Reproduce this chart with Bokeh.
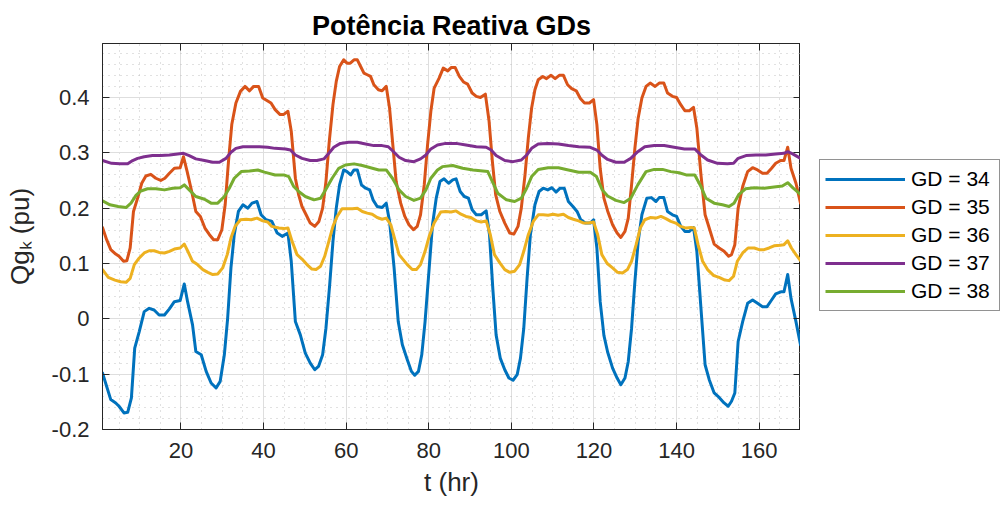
from bokeh.plotting import figure
from bokeh.layouts import row
from bokeh.models import (Range1d, FixedTicker, LinearAxis, Legend, LegendItem,
                          CustomJSTickFormatter)
from bokeh.embed import file_html
from bokeh.resources import INLINE

# ---------------- data ----------------
x_gd34 = [1, 3.0, 4.2, 5.0, 6.2, 7.1, 8.0, 8.8, 9.9, 11.1, 12.3, 13.5, 14.7, 16.0, 17.2, 18.4, 19.8, 20.8,
          21.6, 22.8, 23.6, 24.9, 26.1, 27.3, 28.5, 29.5, 30.5, 31.3, 32.1, 32.9, 33.9, 35.0, 36.2, 37.2,
          38.4, 39.4, 40.6, 42.0, 43.3, 44.5, 45.9, 46.7, 47.7, 48.9, 50.1, 51.3, 52.4, 53.3, 54.3, 55.1,
          56.0, 56.8, 57.6, 58.4, 59.4, 60.2, 61.1, 61.9, 62.7, 63.7, 64.7, 65.7, 66.5, 67.5, 68.7, 69.7,
          70.5, 71.6, 72.6, 73.6, 74.8, 75.8, 76.6, 77.5, 78.3, 79.1, 80.1, 80.9, 81.8, 82.7, 83.7, 84.8,
          85.8, 86.6, 87.6, 88.6, 89.6, 90.5, 91.5, 92.7, 93.9, 94.7, 95.5, 96.3, 97.3, 98.4, 99.4, 100.4,
          101.4, 102.2, 103.0, 103.8, 104.6, 105.7, 106.7, 107.7, 108.8, 109.8, 110.8, 111.8, 112.8, 113.8,
          114.9, 115.9, 116.8, 117.9, 119.1, 119.9, 120.7, 121.5, 122.4, 123.3, 124.5, 125.6, 126.5, 127.5,
          128.3, 129.1, 129.9, 130.7, 131.6, 132.8, 133.9, 135.0, 135.8, 136.9, 137.8, 139.0, 140.0, 141.0,
          142.0, 143.1, 144.1, 144.9, 145.9, 146.9, 147.9, 149.1, 150.3, 151.5, 152.5, 153.3, 154.1, 154.9,
          156.0, 157.2, 158.4, 159.6, 160.8, 161.9, 163.0, 164.0, 165.4, 166.0, 166.9, 167.7, 168.9, 170.0]
y_gd34 = [-0.098, -0.146, -0.152, -0.158, -0.170, -0.169, -0.143, -0.053, -0.023, 0.013, 0.019, 0.016,
          0.007, 0.007, 0.018, 0.031, 0.033, 0.063, 0.031, -0.011, -0.059, -0.065, -0.095, -0.116, -0.125,
          -0.113, -0.065, 0.001, 0.092, 0.152, 0.194, 0.206, 0.200, 0.209, 0.212, 0.188, 0.179, 0.176,
          0.155, 0.149, 0.155, 0.104, -0.005, -0.029, -0.062, -0.080, -0.092, -0.086, -0.065, -0.017,
          0.061, 0.140, 0.200, 0.242, 0.269, 0.266, 0.260, 0.269, 0.269, 0.242, 0.236, 0.233, 0.215,
          0.203, 0.201, 0.209, 0.176, 0.092, -0.005, -0.047, -0.074, -0.095, -0.102, -0.095, -0.065,
          -0.005, 0.092, 0.170, 0.218, 0.248, 0.253, 0.245, 0.251, 0.253, 0.230, 0.221, 0.218, 0.197,
          0.188, 0.188, 0.195, 0.152, 0.055, -0.029, -0.071, -0.092, -0.107, -0.111, -0.101, -0.071,
          -0.017, 0.073, 0.152, 0.206, 0.230, 0.236, 0.233, 0.237, 0.229, 0.236, 0.236, 0.212, 0.203,
          0.194, 0.179, 0.173, 0.173, 0.179, 0.128, 0.031, -0.030, -0.060, -0.089, -0.107, -0.119, -0.107,
          -0.077, -0.017, 0.067, 0.140, 0.188, 0.218, 0.219, 0.212, 0.219, 0.219, 0.194, 0.188, 0.185,
          0.167, 0.158, 0.158, 0.165, 0.122, 0.019, -0.083, -0.110, -0.134, -0.142, -0.152, -0.158,
          -0.149, -0.134, -0.041, -0.005, 0.028, 0.034, 0.028, 0.022, 0.022, 0.034, 0.045, 0.049, 0.049,
          0.080, 0.037, -0.005, -0.047]

x_gd35 = [1, 2.0, 3.0, 4.2, 5.0, 6.1, 6.9, 7.7, 8.5, 9.5, 10.5, 11.5, 12.7, 13.9, 15.1, 16.1, 17.2, 18.4,
          19.8, 20.6, 21.5, 22.6, 23.6, 24.7, 25.8, 26.9, 27.9, 28.9, 29.9, 30.7, 31.5, 32.3, 33.3, 34.4,
          35.5, 36.6, 37.6, 38.8, 39.8, 40.9, 41.8, 42.8, 44.0, 44.8, 45.9, 46.7, 47.7, 48.5, 49.3, 50.3,
          51.3, 52.4, 53.4, 54.3, 55.1, 55.9, 56.8, 57.6, 58.4, 59.4, 60.2, 61.0, 61.9, 62.7, 63.5, 64.3,
          65.1, 65.9, 66.7, 67.8, 68.7, 69.7, 70.5, 71.3, 72.1, 73.2, 74.2, 75.2, 76.3, 77.2, 78.0, 78.9,
          79.7, 80.5, 81.3, 82.5, 83.5, 84.6, 85.4, 86.4, 87.4, 88.4, 89.4, 90.5, 91.5, 92.5, 93.7, 94.6,
          95.4, 96.2, 97.2, 98.4, 99.6, 100.6, 101.6, 102.4, 103.3, 104.1, 104.9, 105.7, 106.5, 107.6,
          108.5, 109.6, 110.6, 111.6, 112.6, 113.6, 114.6, 115.7, 116.7, 117.7, 118.9, 119.9, 120.7, 121.5,
          122.4, 123.3, 124.5, 125.6, 126.5, 127.5, 128.3, 129.1, 129.9, 130.7, 131.6, 132.6, 133.6, 134.8,
          135.8, 136.9, 137.8, 139.0, 140.0, 141.0, 142.0, 143.1, 144.1, 144.9, 145.9, 146.9, 147.9, 149.1,
          150.3, 151.5, 152.6, 153.3, 154.1, 154.9, 156.0, 157.2, 158.4, 159.6, 160.8, 161.9, 163.0, 164.0,
          165.2, 166.0, 166.9, 167.7, 168.9, 170.0]
y_gd35 = [0.165, 0.143, 0.125, 0.117, 0.113, 0.104, 0.105, 0.128, 0.194, 0.218, 0.245, 0.258, 0.261, 0.254,
          0.250, 0.254, 0.263, 0.272, 0.273, 0.293, 0.266, 0.230, 0.194, 0.185, 0.164, 0.152, 0.143, 0.143,
          0.161, 0.206, 0.284, 0.351, 0.390, 0.411, 0.420, 0.412, 0.420, 0.420, 0.399, 0.394, 0.390, 0.378,
          0.369, 0.369, 0.375, 0.339, 0.254, 0.224, 0.203, 0.188, 0.173, 0.167, 0.176, 0.200, 0.248, 0.320,
          0.387, 0.429, 0.456, 0.468, 0.462, 0.462, 0.468, 0.468, 0.456, 0.444, 0.441, 0.438, 0.423, 0.414,
          0.412, 0.420, 0.381, 0.314, 0.248, 0.209, 0.185, 0.170, 0.161, 0.167, 0.188, 0.242, 0.314, 0.375,
          0.417, 0.435, 0.453, 0.448, 0.454, 0.454, 0.438, 0.428, 0.424, 0.408, 0.402, 0.400, 0.406, 0.357,
          0.284, 0.224, 0.194, 0.173, 0.155, 0.153, 0.167, 0.200, 0.260, 0.327, 0.381, 0.414, 0.432, 0.438,
          0.434, 0.440, 0.434, 0.440, 0.440, 0.423, 0.416, 0.412, 0.398, 0.390, 0.390, 0.396, 0.351, 0.272,
          0.218, 0.195, 0.170, 0.155, 0.147, 0.158, 0.182, 0.242, 0.308, 0.363, 0.399, 0.420, 0.426, 0.420,
          0.426, 0.426, 0.408, 0.402, 0.400, 0.387, 0.376, 0.376, 0.382, 0.345, 0.260, 0.188, 0.164, 0.135,
          0.128, 0.122, 0.113, 0.116, 0.134, 0.200, 0.239, 0.266, 0.273, 0.269, 0.263, 0.263, 0.272, 0.281,
          0.286, 0.286, 0.310, 0.272, 0.245, 0.209]

x_gd36 = [1, 2.4, 4.0, 5.4, 6.7, 7.7, 8.7, 9.9, 11.1, 12.3, 13.5, 14.7, 16.0, 17.2, 18.4, 19.8, 20.8, 21.6,
          22.8, 24.0, 25.3, 26.5, 27.7, 28.9, 30.1, 31.2, 32.1, 33.1, 34.4, 35.8, 37.0, 38.4, 39.8, 41.0,
          42.0, 43.7, 44.9, 45.9, 46.9, 48.1, 49.3, 50.5, 51.7, 52.7, 53.8, 54.8, 55.8, 56.8, 57.8, 59.0,
          60.2, 61.5, 62.7, 63.9, 65.1, 66.3, 67.5, 68.7, 69.7, 70.8, 71.8, 72.8, 73.8, 74.8, 76.0, 77.0,
          78.0, 79.1, 80.1, 81.3, 82.9, 84.1, 85.4, 86.6, 87.8, 89.0, 90.2, 91.5, 92.7, 93.9, 94.9, 95.9,
          97.2, 98.4, 99.6, 100.8, 102.0, 103.0, 104.1, 105.3, 106.5, 107.7, 108.9, 110.1, 111.3, 112.6,
          113.8, 115.0, 116.3, 117.5, 118.7, 119.9, 120.9, 121.9, 123.2, 124.5, 125.7, 126.9, 128.1, 129.1,
          130.2, 131.2, 132.3, 133.6, 135.0, 136.2, 137.4, 138.6, 139.8, 141.0, 142.3, 143.5, 144.3, 145.2,
          146.3, 147.5, 149.0, 150.3, 151.7, 152.7, 153.8, 154.7, 156.0, 157.3, 158.8, 160.0, 161.2, 162.4,
          163.6, 165.1, 166.0, 166.9, 167.8, 168.9, 170.0]
y_gd36 = [0.089, 0.075, 0.070, 0.067, 0.066, 0.073, 0.098, 0.110, 0.119, 0.123, 0.123, 0.120, 0.119, 0.122,
          0.126, 0.128, 0.135, 0.123, 0.104, 0.098, 0.089, 0.084, 0.080, 0.081, 0.092, 0.116, 0.146, 0.167,
          0.179, 0.180, 0.179, 0.182, 0.177, 0.175, 0.167, 0.164, 0.163, 0.164, 0.140, 0.116, 0.108, 0.098,
          0.090, 0.089, 0.095, 0.113, 0.140, 0.167, 0.185, 0.199, 0.199, 0.199, 0.200, 0.194, 0.191, 0.189,
          0.183, 0.180, 0.182, 0.170, 0.143, 0.116, 0.107, 0.098, 0.089, 0.089, 0.098, 0.122, 0.149, 0.173,
          0.193, 0.194, 0.193, 0.195, 0.189, 0.185, 0.183, 0.177, 0.175, 0.177, 0.152, 0.116, 0.101, 0.089,
          0.084, 0.086, 0.098, 0.122, 0.152, 0.176, 0.188, 0.188, 0.187, 0.189, 0.187, 0.189, 0.183, 0.180,
          0.177, 0.173, 0.173, 0.175, 0.152, 0.116, 0.100, 0.092, 0.084, 0.083, 0.089, 0.104, 0.134, 0.164,
          0.179, 0.183, 0.182, 0.185, 0.181, 0.176, 0.173, 0.167, 0.164, 0.165, 0.164, 0.134, 0.104, 0.089,
          0.078, 0.075, 0.070, 0.069, 0.077, 0.104, 0.119, 0.128, 0.128, 0.125, 0.125, 0.128, 0.132, 0.133,
          0.134, 0.141, 0.128, 0.116, 0.105]

x_gd37 = [1, 3.2, 5.2, 7.1, 8.3, 9.5, 11.1, 13.1, 15.1, 17.2, 19.2, 20.6, 22.0, 23.6, 25.7, 27.7, 29.3,
          30.9, 32.1, 33.3, 35.0, 37.0, 39.0, 41.0, 42.8, 45.3, 46.5, 47.7, 49.3, 51.3, 52.9, 54.6, 55.8,
          57.0, 58.6, 60.6, 62.7, 64.7, 66.7, 68.7, 70.2, 71.6, 72.8, 74.4, 76.4, 78.0, 79.3, 80.5, 82.1,
          84.1, 86.6, 89.0, 91.5, 93.9, 95.1, 96.3, 98.4, 100.4, 102.4, 103.7, 104.9, 106.5, 108.9, 111.4,
          113.8, 116.3, 119.1, 120.7, 122.0, 123.3, 125.3, 127.3, 128.9, 130.6, 132.3, 134.6, 137.0, 139.4,
          141.9, 144.4, 145.9, 147.5, 149.9, 152.3, 153.8, 154.9, 156.8, 159.2, 161.6, 164.0, 166.0, 166.9,
          168.1, 170.0]
y_gd37 = [0.286, 0.281, 0.280, 0.280, 0.286, 0.290, 0.293, 0.295, 0.295, 0.296, 0.298, 0.299, 0.295, 0.289,
          0.286, 0.283, 0.283, 0.290, 0.301, 0.308, 0.311, 0.311, 0.311, 0.310, 0.308, 0.307, 0.305, 0.296,
          0.290, 0.286, 0.286, 0.289, 0.299, 0.310, 0.317, 0.319, 0.319, 0.316, 0.313, 0.313, 0.311, 0.301,
          0.292, 0.286, 0.284, 0.289, 0.296, 0.307, 0.314, 0.317, 0.317, 0.314, 0.311, 0.310, 0.305, 0.295,
          0.286, 0.284, 0.287, 0.296, 0.308, 0.316, 0.317, 0.316, 0.313, 0.311, 0.310, 0.305, 0.295, 0.288,
          0.283, 0.283, 0.290, 0.302, 0.311, 0.313, 0.313, 0.310, 0.307, 0.307, 0.296, 0.287, 0.281, 0.280,
          0.281, 0.290, 0.295, 0.296, 0.296, 0.298, 0.299, 0.302, 0.298, 0.290]

x_gd38 = [1, 2.8, 4.8, 6.7, 7.9, 9.1, 10.3, 11.9, 13.9, 16.0, 18.0, 19.8, 20.8, 22.0, 23.6, 25.7, 27.3,
          28.9, 30.5, 31.7, 32.9, 34.6, 36.6, 38.6, 40.2, 42.8, 44.9, 46.1, 47.3, 48.5, 50.1, 52.2, 53.8,
          55.0, 56.6, 58.2, 59.8, 61.9, 63.9, 65.9, 67.9, 69.7, 71.2, 72.8, 74.4, 76.4, 78.0, 79.3, 80.5,
          82.1, 83.3, 85.8, 88.2, 90.7, 93.1, 94.3, 95.4, 96.7, 98.8, 100.8, 102.4, 103.7, 104.9, 106.5,
          108.9, 111.4, 113.8, 116.3, 119.1, 120.6, 122.0, 123.3, 125.3, 127.3, 128.9, 130.6, 132.6, 134.6,
          136.6, 138.6, 140.6, 142.3, 144.4, 145.9, 147.1, 149.1, 151.1, 152.7, 153.9, 155.1, 156.7, 158.8,
          161.2, 163.6, 165.6, 166.9, 168.1, 170.0]
y_gd38 = [0.213, 0.206, 0.203, 0.201, 0.209, 0.223, 0.231, 0.235, 0.235, 0.233, 0.236, 0.237, 0.242, 0.233,
          0.221, 0.216, 0.209, 0.209, 0.221, 0.236, 0.254, 0.266, 0.267, 0.269, 0.265, 0.260, 0.260, 0.257,
          0.239, 0.230, 0.221, 0.215, 0.218, 0.233, 0.254, 0.272, 0.278, 0.280, 0.277, 0.273, 0.269, 0.269,
          0.254, 0.233, 0.221, 0.214, 0.218, 0.233, 0.254, 0.269, 0.275, 0.277, 0.272, 0.269, 0.267, 0.266,
          0.248, 0.227, 0.215, 0.212, 0.218, 0.236, 0.257, 0.270, 0.273, 0.273, 0.269, 0.265, 0.265, 0.257,
          0.233, 0.222, 0.214, 0.210, 0.218, 0.242, 0.266, 0.270, 0.270, 0.266, 0.264, 0.260, 0.260, 0.239,
          0.218, 0.209, 0.206, 0.203, 0.209, 0.225, 0.235, 0.237, 0.236, 0.238, 0.240, 0.246, 0.237, 0.225]

series_labels = ["GD = 34", "GD = 35", "GD = 36", "GD = 37", "GD = 38"]
series_colors = ["#0072BD", "#D95319", "#EDB120", "#7E2F8E", "#77AC30"]

x_ticks = [20, 40, 60, 80, 100, 120, 140, 160]
x_minor = [v for v in range(5, 170, 5) if v % 20 != 0]
y_ticks = [-0.2, -0.1, 0.0, 0.1, 0.2, 0.3, 0.4]
y_tick_labels = ["-0.2", "-0.1", "0", "0.1", "0.2", "0.3", "0.4"]
y_minor = [round(-0.2 + 0.02 * i, 2) for i in range(36) if i % 5 != 0]

title_text = "Potência Reativa GDs"
xlabel_text = "t (hr)"
ylabel_text = "Qg\u2096 (pu)"

# ---------------- main figure ----------------
FONT = "Liberation Sans"
AX = "#262626"

p = figure(width=800, height=507, output_backend="svg", toolbar_location=None,
           x_range=Range1d(1, 170), y_range=Range1d(-0.2, 0.4975),
           min_border_left=102, min_border_right=0, min_border_top=43, min_border_bottom=78)
p.outline_line_color = AX
p.outline_line_width = 1
p.background_fill_color = "white"
p.border_fill_color = "white"

p.title.text = title_text
p.title.text_font = FONT
p.title.text_font_size = "27px"
p.title.text_font_style = "bold"
p.title.text_color = "black"
p.title.align = "center"
p.title.standoff = 6

xt = FixedTicker(ticks=x_ticks, minor_ticks=x_minor)
yt = FixedTicker(ticks=y_ticks, minor_ticks=y_minor)

def style_axis(ax):
    ax.axis_line_color = AX
    ax.axis_line_width = 1
    ax.major_tick_line_color = AX
    ax.major_tick_in = 7
    ax.major_tick_out = 0
    ax.minor_tick_in = 0
    ax.minor_tick_out = 0
    ax.major_label_text_color = AX
    ax.major_label_text_font = FONT
    ax.major_label_text_font_size = "22px"
    ax.axis_label_text_font = FONT
    ax.axis_label_text_font_size = "26px"
    ax.axis_label_text_font_style = "normal"
    ax.axis_label_text_color = AX

p.xaxis.ticker = xt
p.yaxis.ticker = yt
for ax in p.xaxis + p.yaxis:
    style_axis(ax)
p.xaxis.major_label_standoff = 13
p.yaxis.major_label_standoff = 13
p.yaxis.major_label_overrides = {t: s for t, s in zip(y_ticks, y_tick_labels)}
p.xaxis.axis_label = xlabel_text
p.xaxis.axis_label_standoff = 6
p.yaxis.axis_label = ylabel_text
p.yaxis.axis_label_standoff = 14

blank = CustomJSTickFormatter(code="return ''")
top_ax = LinearAxis(ticker=xt, formatter=blank, major_label_standoff=0)
right_ax = LinearAxis(ticker=yt, formatter=blank, major_label_standoff=0)
style_axis(top_ax)
style_axis(right_ax)
p.add_layout(top_ax, "above")
p.add_layout(right_ax, "right")

p.xgrid.ticker = xt
p.ygrid.ticker = yt
for g in (p.xgrid, p.ygrid):
    g.grid_line_color = "#dedede"
    g.grid_line_width = 1
    g.minor_grid_line_color = "#c2c2c2"
    g.minor_grid_line_width = 1
    g.minor_grid_line_dash = "1 5"

xs = [x_gd34, x_gd35, x_gd36, x_gd37, x_gd38]
ys = [y_gd34, y_gd35, y_gd36, y_gd37, y_gd38]
for xv, yv, col in zip(xs, ys, series_colors):
    p.line(xv, yv, line_color=col, line_width=3, line_join="round", line_cap="round")

# ---------------- legend panel (separate figure to the right) ----------------
# Its x range lies far left of the data, so the (same) series lines used as legend
# sources are clipped away and only the legend is visible.
q = figure(width=200, height=507, output_backend="svg", toolbar_location=None,
           x_range=Range1d(-20, -10), y_range=Range1d(-0.2, 0.4975),
           x_axis_location=None, y_axis_location=None,
           min_border_left=0, min_border_right=0, min_border_top=0, min_border_bottom=0)
q.outline_line_color = None
q.xgrid.visible = False
q.ygrid.visible = False
q.background_fill_color = "white"
q.border_fill_color = "white"

items = []
for xv, yv, lab, col in zip(xs, ys, series_labels, series_colors):
    r = q.line(xv, yv, line_color=col, line_width=3)
    items.append(LegendItem(label=lab, renderers=[r]))

legend = Legend(items=items, location=(19, 118), orientation="vertical",
                border_line_color=AX, border_line_width=1,
                background_fill_color="white", background_fill_alpha=1.0,
                label_text_font=FONT, label_text_font_size="21px", label_text_color="black",
                glyph_width=80, glyph_height=28, label_height=28, label_width=83,
                label_standoff=6, padding=5, spacing=0, margin=0)
q.add_layout(legend, "center")

open("out.html", "w").write(file_html(row(p, q), INLINE))
